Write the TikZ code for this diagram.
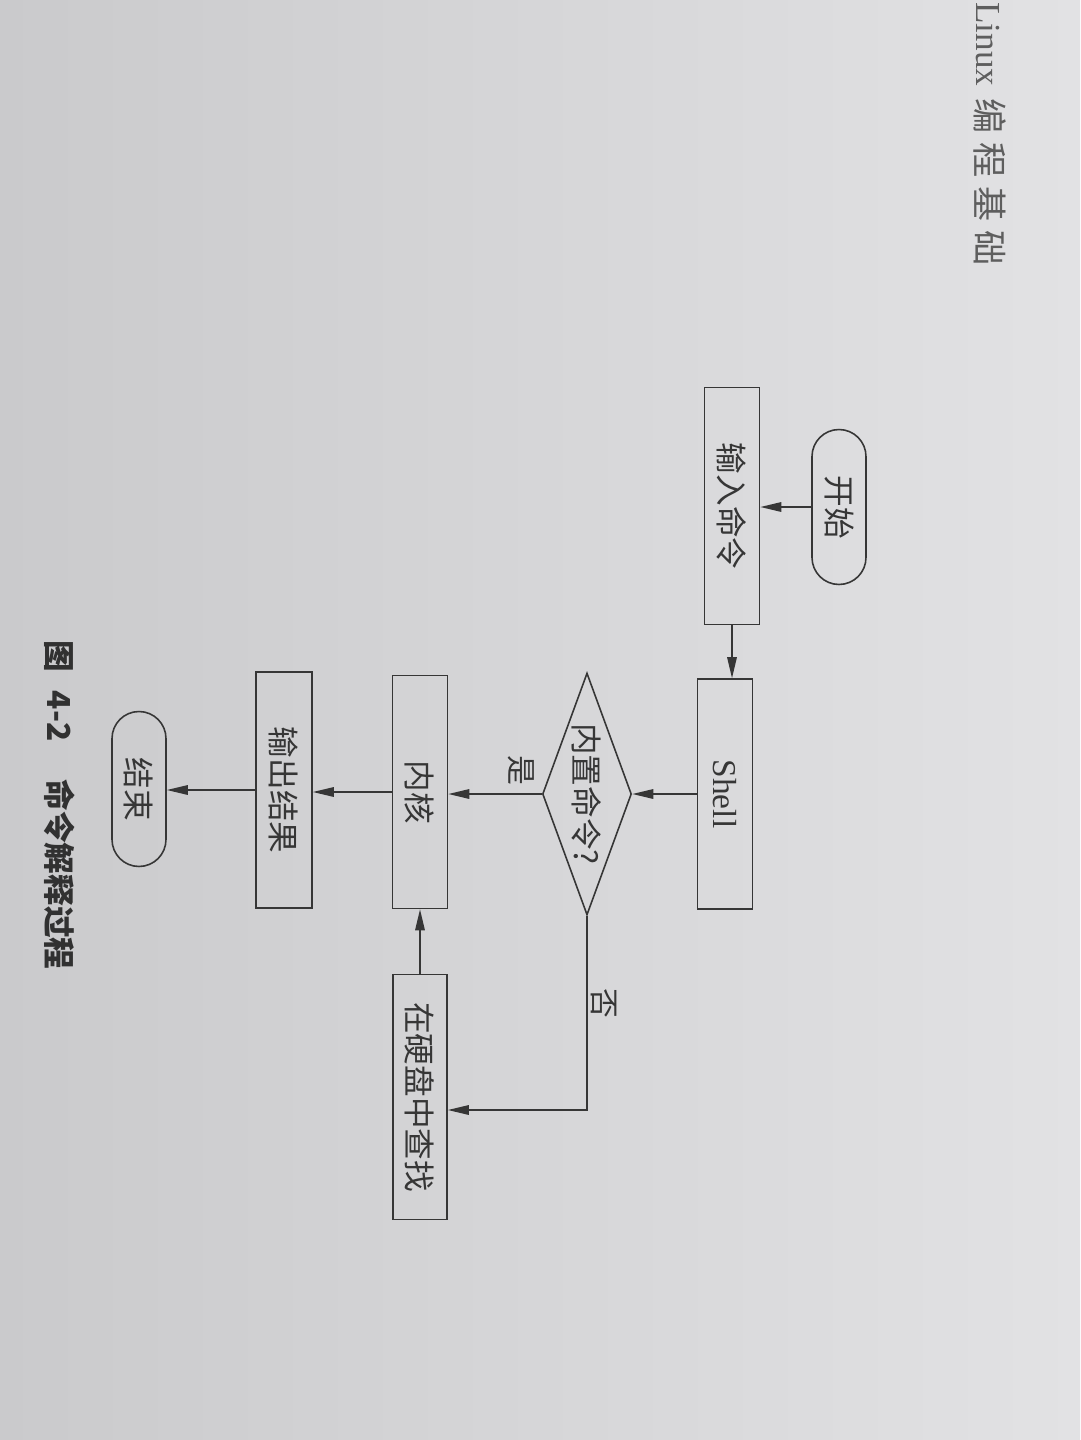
\documentclass[tikz,border=0pt]{standalone}
\usepackage{fontspec}
\setmainfont{Liberation Serif}
\newfontfamily\cjk{Noto Sans CJK SC}
\usetikzlibrary{shapes.geometric,arrows.meta,calc}
\definecolor{paperL}{HTML}{CACACC}
\definecolor{paperR}{HTML}{E2E2E4}
\definecolor{ink}{HTML}{363636}
\begin{document}
\begin{tikzpicture}[x=0.02cm,y=-0.02cm,
  flowbox/.style={draw=ink, line width=0.9pt, rectangle, rotate=-90, inner sep=0pt, text=ink, font=\cjk\fontsize{18}{20}\selectfont},
  termbox/.style={flowbox, rounded corners=0.54cm, minimum width=3.1cm, minimum height=1.08cm},
  decide/.style={draw=ink, line width=0.9pt, diamond, aspect=2.72, rotate=-90, inner sep=0pt, text=ink, font=\cjk\fontsize{18}{20}\selectfont, minimum width=4.84cm, minimum height=1.78cm},
  flow/.style={draw=ink, line width=0.9pt, -{Triangle[length=0.42cm,width=0.19cm]}},
  tag/.style={rotate=-90, text=ink, inner sep=0pt, font=\cjk\fontsize{17}{19}\selectfont}
]
\fill[left color=paperL, right color=paperR] (0,0) rectangle (1080,1440);
\useasboundingbox (0,0) rectangle (1080,1440);

% header and caption
\node[rotate=-90, anchor=west, inner sep=0pt, text=ink!80, font=\fontsize{20}{22}\selectfont] (header) at (990,2)
  {Linux\hspace{0.35em}{\cjk 编\hspace{0.25em}程\hspace{0.25em}基\hspace{0.25em}础}};
\node[rotate=-90, anchor=west, inner sep=0pt, text=ink!90!black, font=\cjk\bfseries\fontsize{18}{20}\selectfont] (caption) at (60,640)
  {图\hspace{0.6em}4-2\hspace{1.2em}命令解释过程};

% nodes
\node[termbox] (start) at (839,507) {开始};
\node[flowbox, minimum width=4.74cm, minimum height=1.1cm] (input) at (732,506) {输入命令};
\node[flowbox, minimum width=4.6cm, minimum height=1.1cm, font=\fontsize{19}{21}\selectfont] (shell) at (725,794) {Shell};
\node[decide] (builtin) at (587,794) {内置命令?};
\node[flowbox, minimum width=4.66cm, minimum height=1.1cm] (kernel) at (420,792) {内核};
\node[flowbox, minimum width=4.9cm, minimum height=1.08cm] (disk) at (420,1097) {在硬盘中查找};
\node[flowbox, minimum width=4.72cm, minimum height=1.12cm] (output) at (284,790) {输出结果};
\node[termbox] (finish) at (139,789) {结束};

\node[tag] (yes) at (521,770) {是};
\node[tag] (no) at (604,1003) {否};
\coordinate (bend) at (587,1110);

% connectors
\draw[flow] (start.south) -- (start.south -| input.north);
\draw[flow] (input.east) -- (input.east |- shell.west);
\draw[flow] (shell.south) -- (shell.south -| builtin.north);
\draw[flow] (builtin.south) -- (builtin.south -| kernel.north);
\draw[flow] (kernel.south) -- (kernel.south -| output.north);
\draw[flow] (output.south) -- (output.south -| finish.north);
\draw[flow] (builtin.east) -- (bend) -- (bend -| disk.north);
\draw[flow] (disk.west) -- (disk.west |- kernel.east);
\end{tikzpicture}
\end{document}
